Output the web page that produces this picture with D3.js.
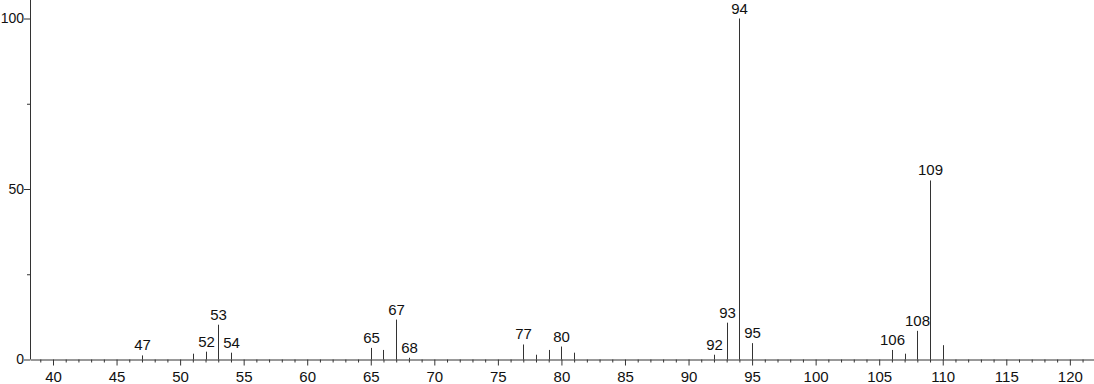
<!DOCTYPE html>
<html>
<head>
<meta charset="utf-8">
<script src="https://cdn.jsdelivr.net/npm/d3@7"></script>
<style>
  body { margin: 0; background: #fff; }
  svg text { font-family: "Liberation Sans", Arial, sans-serif; font-size: 15px; fill: #111; }
  .y-axis text { font-size: 14px; }
</style>
</head>
<body>
<svg id="chart" width="1094" height="384"></svg>
<script>
// Peak data (m/z, relative intensity)
const mz =        [47,  51,  52,  53,   54,  65,  66,  67,   68,  77,  78,  79,  80,  81,  92,  93,   94,  95,  106, 107, 108, 109,  110];
const intensity = [1.2, 1.7, 2.3, 10.2, 2.0, 3.4, 2.8, 11.7, 0.5, 4.4, 1.4, 2.8, 3.8, 2.0, 1.4, 10.8, 100, 4.8, 2.8, 1.7, 8.4, 52.5, 4.2];
const labelled =  [47, 52, 53, 54, 65, 67, 68, 77, 80, 92, 93, 94, 95, 106, 108, 109];
const yTicks = [0, 50, 100];
const yMinor = [25, 75];

const svg = d3.select("#chart");
const x = d3.scaleLinear().domain([38.19, 121.9]).range([30, 1094]);
const y = d3.scaleLinear().domain([0, 100]).range([359.5, 18.5]);

const peaks = mz.map((m, i) => ({ m, v: intensity[i] }));

// x axis: major every 5, minor every 1
const xMajor = d3.range(40, 121, 5);
const xMinor = d3.range(39, 122, 1).filter(d => d % 5 !== 0);

const xAxis = svg.append("g").attr("transform", `translate(0,${y(0)})`);
xAxis.append("g")
  .call(d3.axisBottom(x).tickValues(xMinor).tickSize(3).tickFormat(""))
  .call(g => g.select(".domain").remove());
xAxis.append("g")
  .call(d3.axisBottom(x).tickValues(xMajor).tickSize(6).tickSizeOuter(0).tickPadding(6))
  .call(g => g.selectAll("text").attr("font-size", null));

// y axis
const yAxis = svg.append("g").attr("class", "y-axis").attr("transform", `translate(${x.range()[0]},0)`);
yAxis.append("g")
  .call(d3.axisLeft(y).tickValues(yMinor).tickSize(3).tickFormat(""))
  .call(g => g.select(".domain").remove());
yAxis.append("g")
  .call(d3.axisLeft(y).tickValues(yTicks).tickSize(6).tickSizeOuter(0).tickPadding(0))
  .call(g => g.selectAll("text").attr("font-size", null));
yAxis.select(".domain").attr("d", `M0.5,0V${y(0)}`);

svg.selectAll(".domain, .tick line").attr("stroke", "#333");

// peaks
svg.append("g").selectAll("line")
  .data(peaks)
  .join("line")
  .attr("x1", d => Math.round(x(d.m)) + 0.5)
  .attr("x2", d => Math.round(x(d.m)) + 0.5)
  .attr("y1", y(0))
  .attr("y2", d => y(d.v))
  .attr("stroke", "#333")
  .attr("stroke-width", 1);

svg.append("g").selectAll("text")
  .data(peaks.filter(d => labelled.includes(d.m)))
  .join("text")
  .attr("x", d => Math.round(x(d.m)) + 0.5)
  .attr("y", d => y(d.v) - 5)
  .attr("text-anchor", "middle")
  .text(d => d.m);
</script>
</body>
</html>
